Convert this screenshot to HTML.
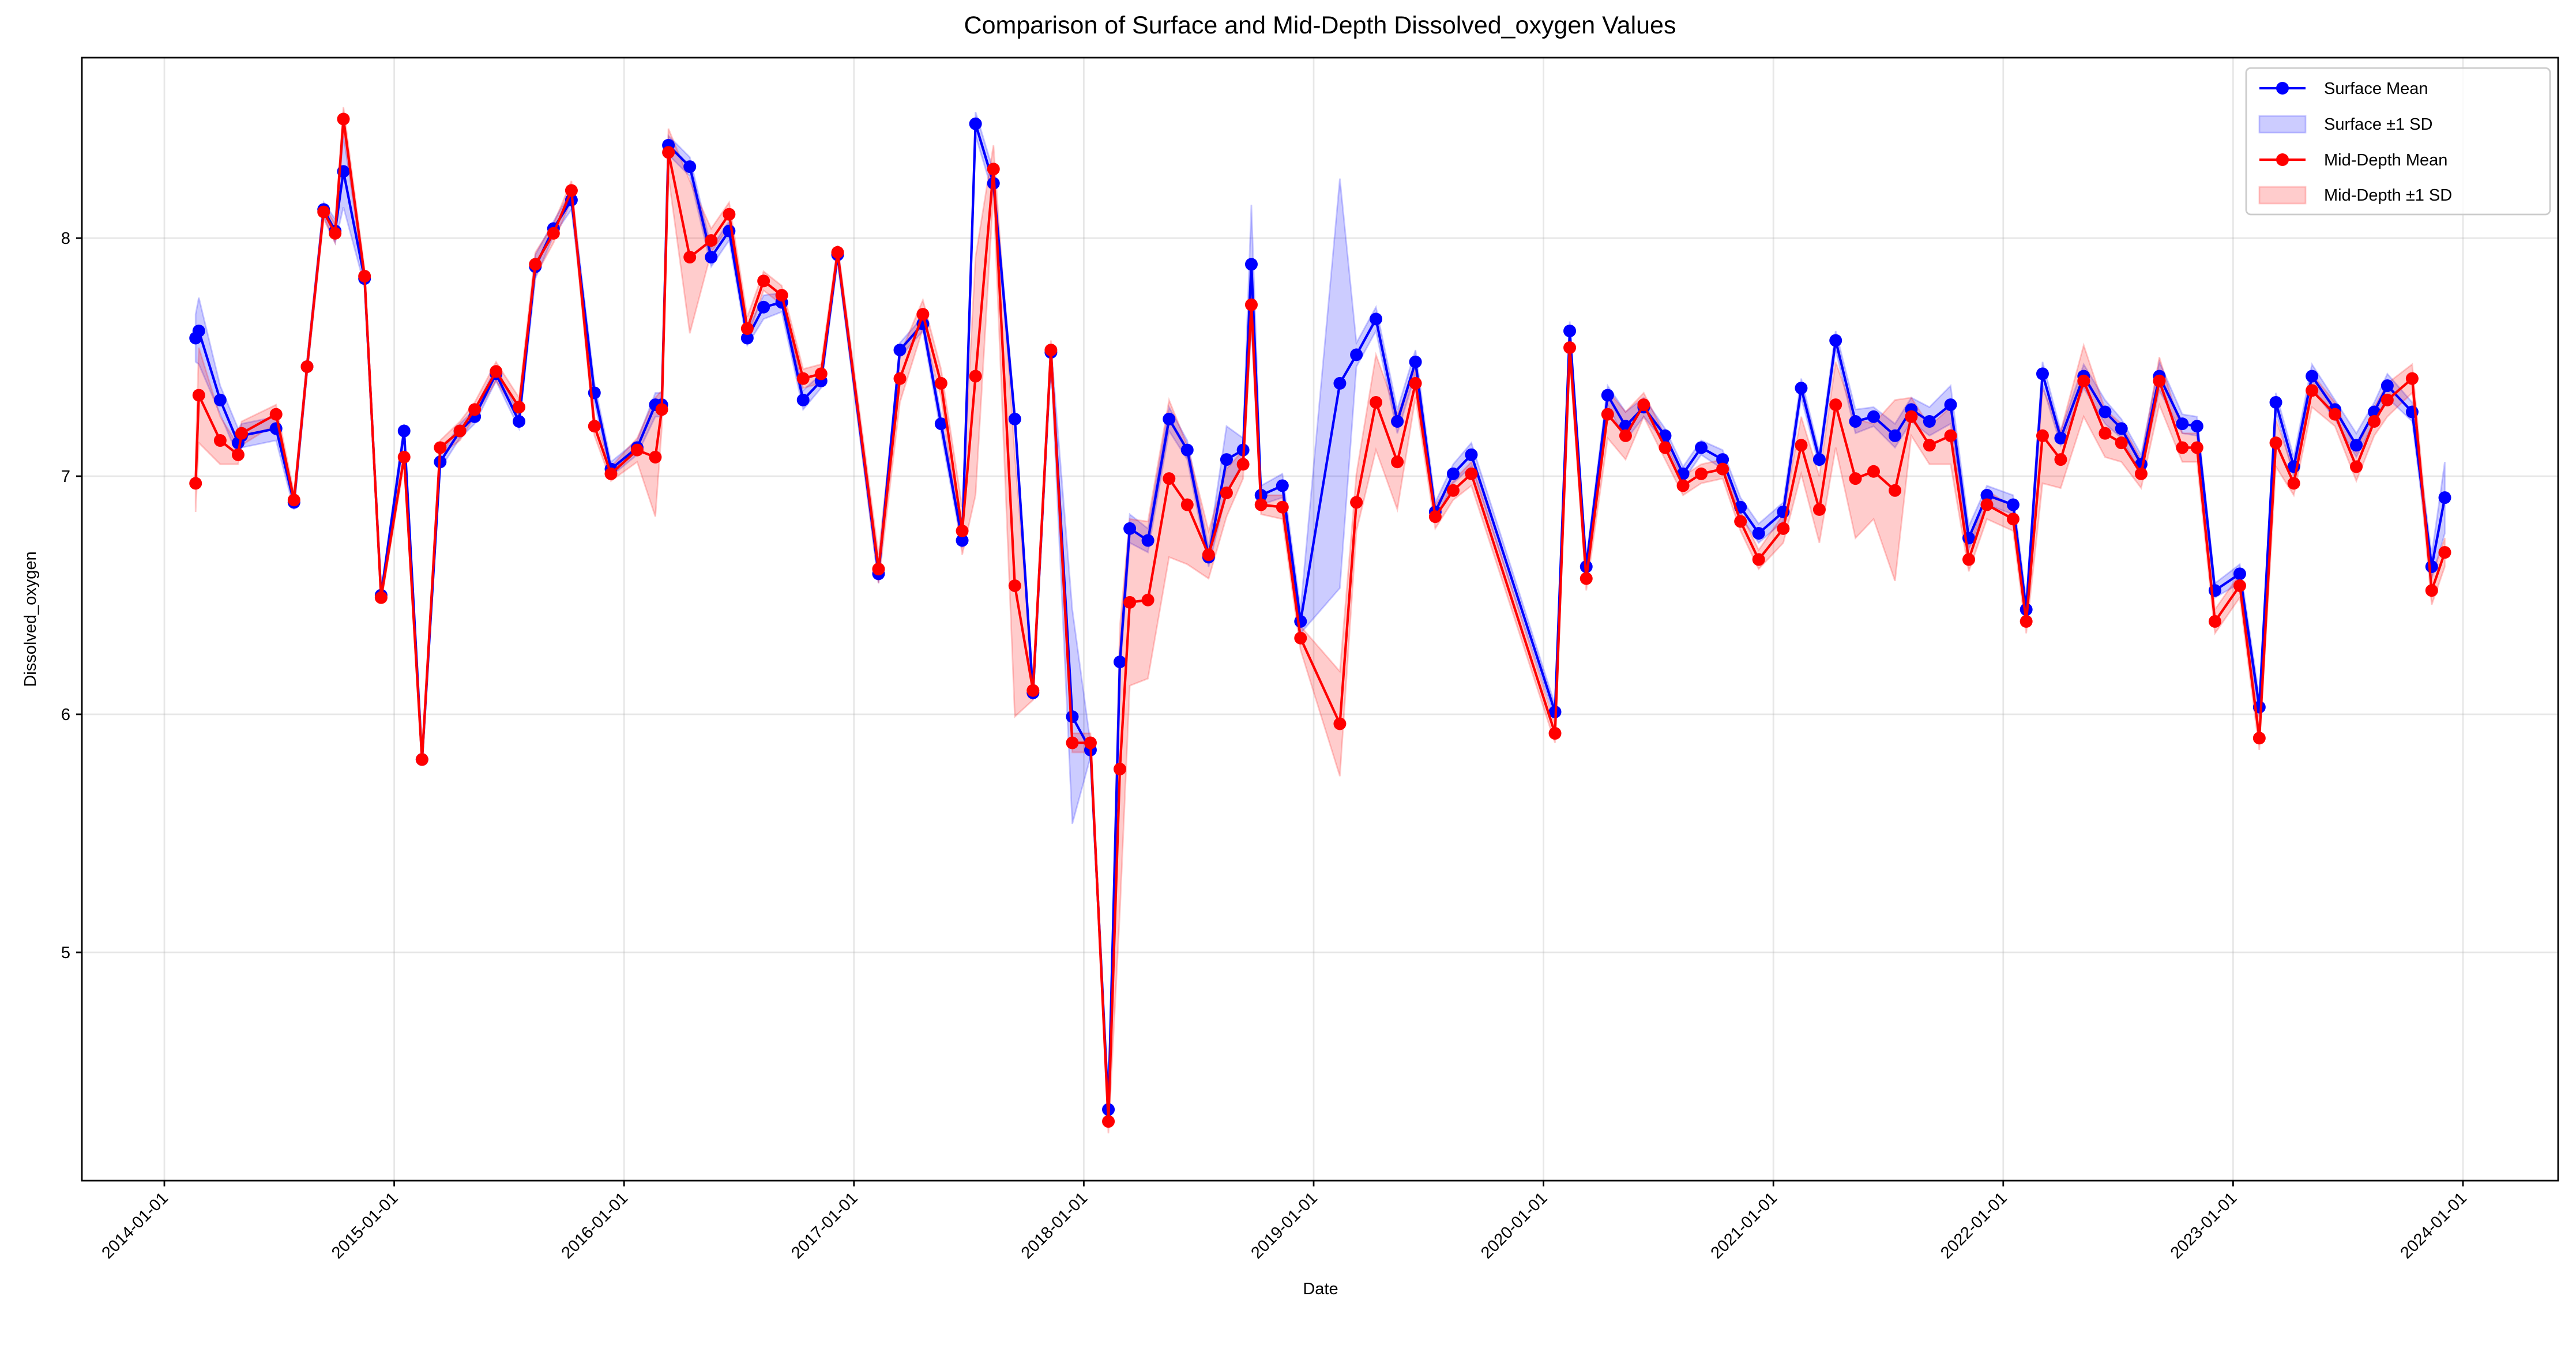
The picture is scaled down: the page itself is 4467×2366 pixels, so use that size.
<!DOCTYPE html>
<html><head><meta charset="utf-8"><style>
html,body{margin:0;padding:0;background:#fff}
svg{display:block;font-family:"Liberation Sans","DejaVu Sans",sans-serif}
</style></head><body>
<svg id="chart" width="4467" height="2366" viewBox="0 0 4467 2366" xmlns="http://www.w3.org/2000/svg">
<rect width="4467" height="2366" fill="#fff"/>
<g id="grid"></g>
<g id="bands"></g>
<g id="series"></g>
<rect x="142" y="100" width="4294" height="1948" fill="none" stroke="#000" stroke-width="2.8"/>
<g id="axes"></g>
<text x="2289" y="58" font-size="43" text-anchor="middle">Comparison of Surface and Mid-Depth Dissolved_oxygen Values</text>
<text x="2290" y="2245" font-size="29" text-anchor="middle">Date</text>
<text x="62" y="1074" font-size="29" text-anchor="middle" transform="rotate(-90 62 1074)">Dissolved_oxygen</text>
<g>
<rect x="3895" y="118" width="527" height="254" rx="8" fill="#fff" fill-opacity="0.8" stroke="#ccc" stroke-width="2.8"/>
<g>
<line x1="3918" y1="153" x2="3998" y2="153" stroke="#0000ff" stroke-width="4.3"/><circle cx="3958" cy="153" r="11" fill="#0000ff"/>
<text x="4030" y="163" font-size="29">Surface Mean</text></g>
<g>
<rect x="3918" y="201" width="80" height="29" fill="#0000ff" fill-opacity="0.2" stroke="#0000ff" stroke-opacity="0.2" stroke-width="2.8"/>
<text x="4030" y="225" font-size="29">Surface ±1 SD</text></g>
<g>
<line x1="3918" y1="277" x2="3998" y2="277" stroke="#ff0000" stroke-width="4.3"/><circle cx="3958" cy="277" r="11" fill="#ff0000"/>
<text x="4030" y="287" font-size="29">Mid-Depth Mean</text></g>
<g>
<rect x="3918" y="324" width="80" height="29" fill="#ff0000" fill-opacity="0.2" stroke="#ff0000" stroke-opacity="0.2" stroke-width="2.8"/>
<text x="4030" y="348" font-size="29">Mid-Depth ±1 SD</text></g>
</g>
</svg>
<script>
const dates=[2014.136,2014.150,2014.243,2014.321,2014.336,2014.486,2014.564,2014.621,2014.693,2014.743,2014.779,2014.871,2014.943,2015.043,2015.121,2015.200,2015.286,2015.350,2015.443,2015.543,2015.614,2015.693,2015.771,2015.871,2015.943,2016.057,2016.136,2016.164,2016.193,2016.286,2016.379,2016.457,2016.536,2016.607,2016.686,2016.779,2016.857,2016.929,2017.107,2017.200,2017.300,2017.379,2017.471,2017.529,2017.607,2017.700,2017.779,2017.857,2017.950,2018.029,2018.107,2018.157,2018.200,2018.279,2018.371,2018.450,2018.543,2018.621,2018.693,2018.729,2018.771,2018.864,2018.943,2019.114,2019.186,2019.271,2019.364,2019.443,2019.529,2019.607,2019.686,2020.050,2020.114,2020.186,2020.279,2020.357,2020.436,2020.529,2020.607,2020.686,2020.779,2020.857,2020.936,2021.043,2021.121,2021.200,2021.271,2021.357,2021.436,2021.529,2021.600,2021.679,2021.771,2021.850,2021.929,2022.043,2022.100,2022.171,2022.250,2022.350,2022.443,2022.514,2022.600,2022.679,2022.779,2022.843,2022.921,2023.029,2023.114,2023.186,2023.264,2023.343,2023.443,2023.536,2023.614,2023.671,2023.779,2023.864,2023.921];
const surfaceMean=[7.58,7.61,7.32,7.14,7.17,7.20,6.89,7.46,8.12,8.03,8.28,7.83,6.50,7.19,5.81,7.06,7.19,7.25,7.43,7.23,7.88,8.04,8.16,7.35,7.03,7.12,7.30,7.30,8.39,8.30,7.92,8.03,7.58,7.71,7.73,7.32,7.40,7.93,6.59,7.53,7.64,7.22,6.73,8.48,8.23,7.24,6.09,7.52,5.99,5.85,4.34,6.22,6.78,6.73,7.24,7.11,6.66,7.07,7.11,7.89,6.92,6.96,6.39,7.39,7.51,7.66,7.23,7.48,6.85,7.01,7.09,6.01,7.61,6.62,7.34,7.21,7.29,7.17,7.01,7.12,7.07,6.87,6.76,6.85,7.37,7.07,7.57,7.23,7.25,7.17,7.28,7.23,7.30,6.74,6.92,6.88,6.44,7.43,7.16,7.42,7.27,7.20,7.05,7.42,7.22,7.21,6.52,6.59,6.03,7.31,7.04,7.42,7.28,7.13,7.27,7.38,7.27,6.62,6.91];
const surfaceSD=[0.1,0.14,0.06,0.06,0.05,0.05,0.03,0.03,0.03,0.05,0.15,0.03,0.02,0.03,0.02,0.03,0.03,0.03,0.03,0.03,0.05,0.03,0.04,0.04,0.03,0.03,0.05,0.05,0.04,0.04,0.04,0.04,0.03,0.05,0.04,0.04,0.03,0.03,0.04,0.03,0.03,0.04,0.03,0.05,0.05,0.03,0.03,0.03,0.45,0.03,0.03,0.05,0.06,0.05,0.05,0.04,0.04,0.14,0.05,0.25,0.04,0.05,0.05,0.86,0.05,0.05,0.05,0.05,0.04,0.04,0.05,0.03,0.04,0.03,0.04,0.06,0.04,0.03,0.03,0.03,0.04,0.04,0.04,0.04,0.04,0.03,0.04,0.05,0.04,0.05,0.05,0.06,0.08,0.05,0.04,0.04,0.04,0.05,0.03,0.05,0.05,0.04,0.04,0.06,0.04,0.04,0.03,0.04,0.04,0.04,0.04,0.05,0.04,0.05,0.04,0.05,0.04,0.05,0.15];
const midMean=[6.97,7.34,7.15,7.09,7.18,7.26,6.90,7.46,8.11,8.02,8.50,7.84,6.49,7.08,5.81,7.12,7.19,7.28,7.44,7.29,7.89,8.02,8.20,7.21,7.01,7.11,7.08,7.28,8.36,7.92,7.99,8.10,7.62,7.82,7.76,7.41,7.43,7.94,6.61,7.41,7.68,7.39,6.77,7.42,8.29,6.54,6.10,7.53,5.88,5.88,4.29,5.77,6.47,6.48,6.99,6.88,6.67,6.93,7.05,7.72,6.88,6.87,6.32,5.96,6.89,7.31,7.06,7.39,6.83,6.94,7.01,5.92,7.54,6.57,7.26,7.17,7.30,7.12,6.96,7.01,7.03,6.81,6.65,6.78,7.13,6.86,7.30,6.99,7.02,6.94,7.25,7.13,7.17,6.65,6.88,6.82,6.39,7.17,7.07,7.40,7.18,7.14,7.01,7.40,7.12,7.12,6.39,6.54,5.90,7.14,6.97,7.36,7.26,7.04,7.23,7.32,7.41,6.52,6.68];
const midSD=[0.12,0.2,0.1,0.04,0.05,0.04,0.03,0.03,0.03,0.04,0.05,0.03,0.02,0.03,0.02,0.03,0.04,0.03,0.04,0.04,0.05,0.04,0.04,0.04,0.03,0.05,0.25,0.08,0.1,0.32,0.05,0.05,0.05,0.04,0.04,0.04,0.04,0.03,0.06,0.1,0.06,0.06,0.1,0.5,0.1,0.55,0.04,0.04,0.04,0.04,0.05,0.6,0.35,0.33,0.33,0.25,0.1,0.1,0.06,0.08,0.04,0.05,0.05,0.22,0.12,0.2,0.2,0.06,0.05,0.04,0.05,0.04,0.05,0.05,0.1,0.1,0.05,0.05,0.04,0.04,0.04,0.04,0.04,0.06,0.12,0.14,0.18,0.25,0.2,0.38,0.08,0.08,0.12,0.05,0.06,0.05,0.05,0.2,0.12,0.15,0.1,0.08,0.06,0.1,0.06,0.06,0.05,0.05,0.05,0.1,0.05,0.07,0.05,0.06,0.06,0.07,0.06,0.06,0.06];
const yTicks=[5,6,7,8];
const xTickYears=[2014,2015,2016,2017,2018,2019,2020,2021,2022,2023,2024];
const xTickLabels=["2014-01-01","2015-01-01","2016-01-01","2017-01-01","2018-01-01","2019-01-01","2020-01-01","2021-01-01","2022-01-01","2023-01-01","2024-01-01"];

const NS="http://www.w3.org/2000/svg";
const PL=142,PR=4436,PT=100,PB=2048;
function xScale(y){return 285+(y-2014)*398.6;}
function yScale(v){return 413+(8-v)*413;}
function mk(tag,attrs,parent){const e=document.createElementNS(NS,tag);for(const k in attrs)e.setAttribute(k,attrs[k]);parent.appendChild(e);return e;}
const grid=document.getElementById('grid'),axes=document.getElementById('axes'),bands=document.getElementById('bands'),series=document.getElementById('series');

yTicks.forEach(v=>{const y=yScale(v);
 const g=mk('line',{x1:PL,x2:PR,y1:y,y2:y,stroke:'#b0b0b0','stroke-opacity':0.3,'stroke-width':2.8},grid);
 
 
 const t=mk('line',{x1:PL-10,x2:PL,y1:y,y2:y,stroke:'#000','stroke-width':2.8},axes);
 
 
 const l=mk('text',{x:PL-20,y:y+10,'font-size':29,'text-anchor':'end'},axes);l.textContent=v;
 
 
});
xTickYears.forEach((yr,i)=>{const x=xScale(yr);
 const g=mk('line',{x1:x,x2:x,y1:PT,y2:PB,stroke:'#b0b0b0','stroke-opacity':0.3,'stroke-width':2.8},grid);
 
 
 const t=mk('line',{x1:x,x2:x,y1:PB,y2:PB+10,stroke:'#000','stroke-width':2.8},axes);
 
 
 const l=mk('text',{x:x+8,y:PB+32,'font-size':29,'text-anchor':'end',transform:`rotate(-45 ${x+8} ${PB+32})`},axes);l.textContent=xTickLabels[i];
 
 
});

function band(mean,sd,color,name){
 let up=[],dn=[];
 dates.forEach((d,i)=>{up.push(xScale(d)+','+yScale(mean[i]+sd[i]));dn.unshift(xScale(d)+','+yScale(mean[i]-sd[i]));});
 const p=mk('polygon',{points:up.concat(dn).join(' '),fill:color,'fill-opacity':0.2,stroke:color,'stroke-opacity':0.2,'stroke-width':2.8},bands);
 
 
}
function line(mean,color,name){
 const pts=dates.map((d,i)=>xScale(d)+','+yScale(mean[i])).join(' ');
 const g=mk('g',{},series);
 
 
 mk('polyline',{points:pts,fill:'none',stroke:color,'stroke-width':4.3,'stroke-linejoin':'round'},g);
 dates.forEach((d,i)=>{const c=mk('circle',{cx:xScale(d),cy:yScale(mean[i]),r:11,fill:color},g);
  
  
 });
}
band(surfaceMean,surfaceSD,'#0000ff','surface-sd-band');
band(midMean,midSD,'#ff0000','mid-depth-sd-band');
line(surfaceMean,'#0000ff','surface-mean-series');
line(midMean,'#ff0000','mid-depth-mean-series');
</script>
</body></html>
